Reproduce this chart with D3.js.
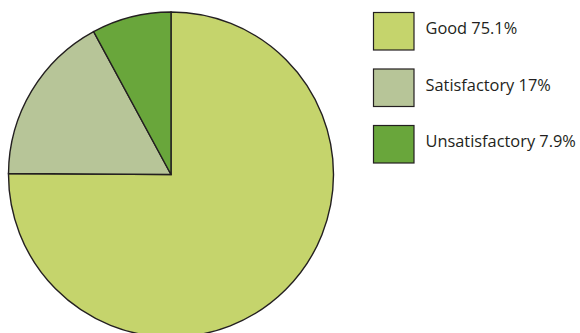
<!DOCTYPE html>
<html>
<head>
<meta charset="utf-8">
<script src="https://cdn.jsdelivr.net/npm/d3@7"></script>
<style>
  html, body { margin: 0; padding: 0; background: #ffffff; }
  svg { display: block; }
</style>
</head>
<body>
<svg id="chart" width="580" height="333"></svg>
<script>
// Ratings share, drawn clockwise from 12 o'clock
const categories = ["Good", "Satisfactory", "Unsatisfactory"];
const values = [75.1, 17, 7.9];
const legendLabels = ["Good 75.1%", "Satisfactory 17%", "Unsatisfactory 7.9%"];
const colors = ["#c5d46c", "#b7c598", "#69a63b"];

const svg = d3.select("#chart");
const cx = 171, cy = 174.5, radius = 162.5;
const ink = "#231f20";

const color = d3.scaleOrdinal().domain(categories).range(colors);

const pie = d3.pie().sort(null).value(d => d.value);
const arc = d3.arc().innerRadius(0).outerRadius(radius);

const data = categories.map((c, i) => ({ name: c, value: values[i] }));

svg.append("g")
  .attr("transform", `translate(${cx},${cy})`)
  .selectAll("path")
  .data(pie(data))
  .join("path")
  .attr("d", arc)
  .attr("fill", d => color(d.data.name))
  .attr("stroke", ink)
  .attr("stroke-width", 1.4)
  .attr("stroke-linejoin", "miter");

// Legend
const legendY = d3.scalePoint().domain(categories).range([12.5, 125.5]);
const legend = svg.append("g")
  .selectAll("g")
  .data(categories)
  .join("g")
  .attr("transform", d => `translate(373.5,${legendY(d)})`);

legend.append("rect")
  .attr("width", 40.5)
  .attr("height", 37.5)
  .attr("fill", d => color(d))
  .attr("stroke", ink)
  .attr("stroke-width", 1.2);

const labels = legend.append("text")
  .attr("x", 52)
  .attr("y", 21.5)
  .attr("fill", ink)
  .style("font-family", "'Open Sans', sans-serif")
  .style("font-size", "17px")
  .text((d, i) => legendLabels[i]);

// Fit the longest label inside the right edge
const maxW = 580 - 373.5 - 52 - 4;
const widest = d3.max(labels.nodes(), n => n.getComputedTextLength());
if (widest > maxW) labels.style("font-size", (17 * maxW / widest).toFixed(2) + "px");
</script>
</body>
</html>
